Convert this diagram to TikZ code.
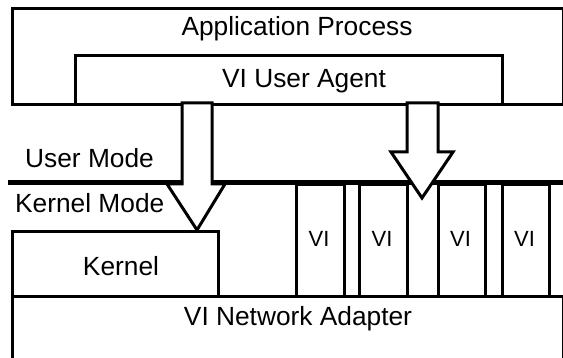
\documentclass[tikz,border=0pt]{standalone}
\usepackage{fontspec}
\setmainfont{Liberation Sans}

\tikzset{layer/.style={draw, line width=3pt, inner sep=0pt}}
\tikzset{lbl/.style={inner sep=0pt, font=\fontsize{26.3}{31}\selectfont}}
\tikzset{vilbl/.style={inner sep=0pt, font=\fontsize{22}{26}\selectfont}}
\tikzset{blockarrow/.style={draw, fill=white, line width=3pt, line join=miter}}

\begin{document}
\begin{tikzpicture}[x=1pt,y=-1pt]
	\clip (0,0) rectangle (563,358);

	% user side
	\node[layer, anchor=north west, minimum width=551pt, minimum height=96pt] (app) at (11,7) {};
	\node[layer, anchor=north west, minimum width=427pt, minimum height=49pt] (agent) at (74,54) {};
	\node[lbl, anchor=base] (apptext) at (297,36) {Application Process};
	\node[lbl, anchor=base] (agenttext) at (304,88) {VI User Agent};

	% mode border
	\coordinate (modeL) at (8,183);
	\coordinate (modeR) at (566,183);
	\node[lbl, anchor=base west] (user) at (25,168) {User Mode};
	\node[lbl, anchor=base west] (kmode) at (15,213) {Kernel Mode};

	% kernel side
	\node[layer, anchor=north west, minimum width=551pt, minimum height=120pt] (nic) at (11,295) {};
	\node[lbl, anchor=base] (nictext) at (298,326) {VI Network Adapter};
	\node[layer, anchor=north west, minimum width=206pt, minimum height=65pt] (kernel) at (11,230) {};
	\node[lbl, anchor=base] (kerneltext) at (121,276) {Kernel};

	\foreach \i/\xa/\xb in {1/295/343, 2/358/406, 3/437/484, 4/501/548} {
		\node[layer, anchor=north west, minimum width=\xb pt-\xa pt, minimum height=112pt] (vi\i) at (\xa,183) {};
		\node[vilbl, anchor=base] (vitext\i) at ({(\xa+\xb)/2},247) {VI};
	}

	\draw[line width=5pt] (modeL) -- (modeR);

	% arrows
	\draw[blockarrow] (182,103) -- (182,184) -- (167,184) -- (197,230) -- (225,184) -- (212,184) -- (212,103) -- cycle;
	\draw[blockarrow] (407,103) -- (407,152) -- (391,152) -- (422,198) -- (453,152) -- (438,152) -- (438,103) -- cycle;
\end{tikzpicture}
\end{document}
